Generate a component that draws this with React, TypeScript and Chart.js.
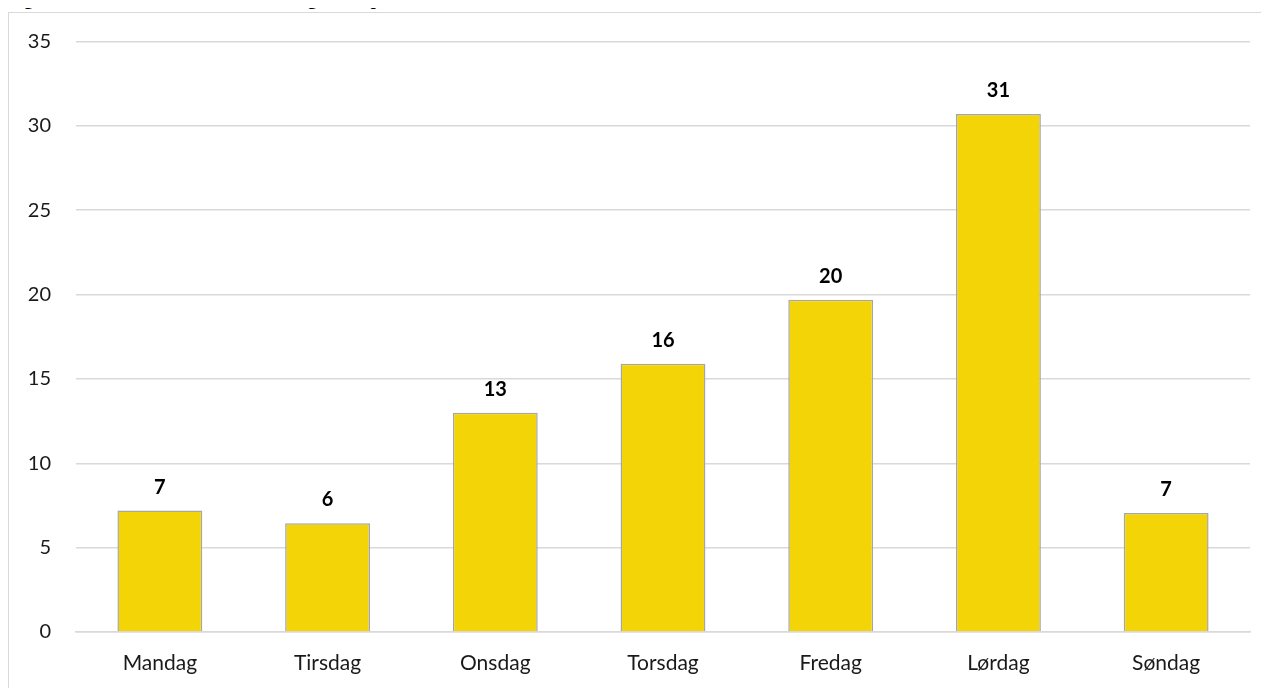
import React, { useEffect, useRef } from "react";
import { Chart, registerables } from "chart.js";

Chart.register(...registerables);

const categories = ["Mandag", "Tirsdag", "Onsdag", "Torsdag", "Fredag", "Lørdag", "Søndag"];
const values = [7.2, 6.45, 13.0, 15.9, 19.7, 30.7, 7.05];
const valueLabels = ["7", "6", "13", "16", "20", "31", "7"];
const yTicks = [0, 5, 10, 15, 20, 25, 30, 35];

const FONT = "Lato, 'Open Sans', sans-serif";

const labelPlugin = {
  id: "barLabels",
  afterDatasetsDraw(chart: any) {
    const ctx = chart.ctx;
    const meta = chart.getDatasetMeta(0);
    ctx.save();
    ctx.font = `bold 20px ${FONT}`;
    ctx.fillStyle = "#000000";
    ctx.textAlign = "center";
    ctx.textBaseline = "alphabetic";
    meta.data.forEach((bar: any, i: number) => {
      ctx.fillText(valueLabels[i], bar.x, bar.y - 17);
    });
    ctx.restore();
  },
};

export default function App() {
  const ref = useRef<HTMLCanvasElement | null>(null);
  useEffect(() => {
    document.body.style.overflow = "hidden";
    const chart = new Chart(ref.current!, {
      type: "bar",
      data: {
        labels: categories,
        datasets: [
          {
            data: values,
            backgroundColor: "#F3D406",
            borderColor: "#A6A6A6",
            borderWidth: 1.5,
            categoryPercentage: 1,
            barPercentage: 0.506,
          },
        ],
      },
      options: {
        responsive: false,
        animation: false,
        layout: { padding: { left: 0, right: 18, top: 28.5, bottom: 0 } },
        plugins: { legend: { display: false }, tooltip: { enabled: false } },
        scales: {
          x: {
            grid: { display: false, drawTicks: false },
            border: { display: true, color: "#D9D9D9", width: 1.5 },
            ticks: { padding: 19, color: "#1a1a1a", font: { family: FONT, size: 21 } },
            afterFit: (axis: any) => {
              axis.height = 55;
            },
          },
          y: {
            min: 0,
            max: 35,
            afterBuildTicks: (axis: any) => {
              axis.ticks = yTicks.map((v) => ({ value: v }));
            },
            afterFit: (axis: any) => {
              axis.width = 67;
              axis.paddingTop = 0;
              axis.paddingBottom = 0;
            },
            grid: { color: "#D9D9D9", lineWidth: 1.5, drawTicks: false },
            border: { display: false },
            ticks: { padding: 25, color: "#1a1a1a", font: { family: FONT, size: 20 } },
          },
        },
      },
      plugins: [labelPlugin],
    });
    return () => chart.destroy();
  }, []);

  return (
    <div style={{ position: "relative", width: 1261, height: 680 }}>
      <div
        style={{
          position: "absolute",
          left: 0,
          top: -21,
          fontFamily: "'Liberation Serif', serif",
          fontWeight: "bold",
          fontSize: 18,
          whiteSpace: "nowrap",
          lineHeight: "24px",
        }}
      >
        Figur 5. Skadde i trafikken etter ukedag, 2019, prosent
      </div>
      <div
        style={{
          position: "absolute",
          left: 0,
          top: 4,
          width: 1261,
          height: 676,
          borderLeft: "1.5px solid #D9D9D9",
          borderTop: "1.5px solid #D9D9D9",
          boxSizing: "border-box",
          background: "#fff",
        }}
      >
        <canvas ref={ref} width={1259} height={674} style={{ display: "block" }} />
      </div>
    </div>
  );
}
